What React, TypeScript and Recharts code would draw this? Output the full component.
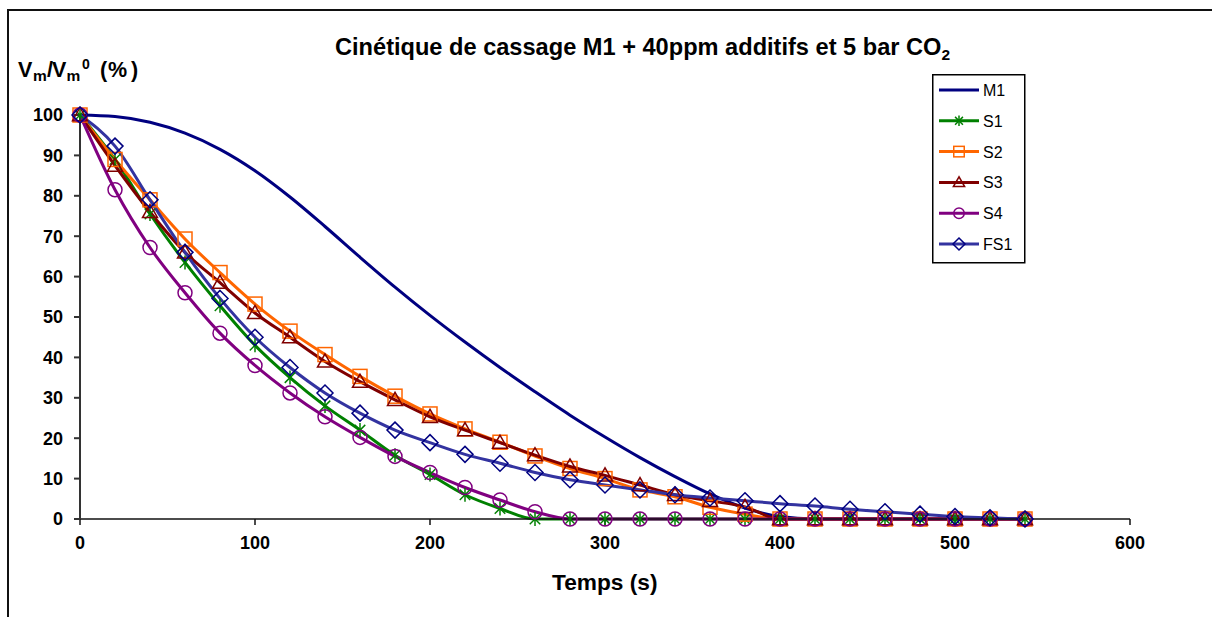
import React from 'react';
import { LineChart, Line, XAxis, YAxis } from 'recharts';

const times = [0, 20, 40, 60, 80, 100, 120, 140, 160, 180, 200, 220, 240, 260, 280, 300, 320, 340, 360, 380, 400, 420, 440, 460, 480, 500, 520, 540];
const m1 = [100, 99.6, 98.2, 95.5, 91.5, 86.2, 79.7, 72.4, 64.8, 57.4, 50.4, 43.8, 37.5, 31.5, 25.7, 20.3, 15.2, 10.5, 6.2, 2.7, 0.6, 0, 0, 0, 0, 0, 0, 0];
const s1 = [100, 89, 75.5, 63.5, 52.8, 43, 35, 28, 22, 15.8, 11, 6, 2.6, 0, 0, 0, 0, 0, 0, 0, 0, 0, 0, 0, 0, 0, 0, 0];
const s2 = [100, 89, 79, 69.3, 61, 53.2, 46.5, 40.7, 35.3, 30.4, 26, 22.3, 19, 15.6, 12.5, 10, 7.2, 5.5, 2.9, 1.2, 0, 0, 0, 0, 0, 0, 0, 0];
const s3 = [100, 87.5, 76, 66, 58.5, 51, 45, 39, 34, 29.5, 25.3, 22, 18.9, 15.8, 13, 10.8, 8.4, 6, 4.5, 3, 0, 0, 0, 0, 0, 0, 0, 0];
const s4 = [100, 81.5, 67.2, 56, 46, 38, 31.2, 25.3, 20.2, 15.5, 11.5, 7.8, 4.7, 1.8, 0, 0, 0, 0, 0, 0, 0, 0, 0, 0, 0, 0, 0, 0];
const fs1 = [100, 92.3, 79, 66, 54.6, 45, 37.5, 31.2, 26.2, 22, 18.9, 16, 13.8, 11.5, 9.7, 8.4, 7.2, 6, 5.2, 4.5, 3.8, 3.2, 2.4, 1.8, 1.2, 0.6, 0.3, 0];

const xTicks = [0, 100, 200, 300, 400, 500, 600];
const yTicks = [0, 10, 20, 30, 40, 50, 60, 70, 80, 90, 100];

const data = times.map((t, i) => ({ t, M1: m1[i], S1: s1[i], S2: s2[i], S3: s3[i], S4: s4[i], FS1: fs1[i] }));

type Kind = 'none' | 'star' | 'square' | 'triangle' | 'circle' | 'diamond';

const seriesDefs: { key: string; color: string; marker: Kind; markerColor: string }[] = [
  { key: 'M1', color: '#000080', marker: 'none', markerColor: '#000080' },
  { key: 'S1', color: '#008000', marker: 'star', markerColor: '#008000' },
  { key: 'S2', color: '#FF6600', marker: 'square', markerColor: '#FF6600' },
  { key: 'S3', color: '#800000', marker: 'triangle', markerColor: '#800000' },
  { key: 'S4', color: '#800080', marker: 'circle', markerColor: '#800080' },
  { key: 'FS1', color: '#3333A0', marker: 'diamond', markerColor: '#000080' },
];

function Marker({ kind, cx, cy, color, s = 1 }: { kind: Kind; cx: number; cy: number; color: string; s?: number }) {
  const sw = 1.5;
  if (kind === 'star') {
    const r = 7 * s;
    const d = r * 0.75;
    return (
      <g stroke={color} strokeWidth={sw} fill="none">
        <line x1={cx} y1={cy - r} x2={cx} y2={cy + r} />
        <line x1={cx - d} y1={cy - d} x2={cx + d} y2={cy + d} />
        <line x1={cx - d} y1={cy + d} x2={cx + d} y2={cy - d} />
      </g>
    );
  }
  if (kind === 'square') {
    const h = 7 * s;
    return <rect x={cx - h} y={cy - h} width={2 * h} height={2 * h} stroke={color} strokeWidth={sw} fill="none" />;
  }
  if (kind === 'triangle') {
    const h = 7.5 * s;
    return <polygon points={`${cx},${cy - h} ${cx - h},${cy + h * 0.75} ${cx + h},${cy + h * 0.75}`} stroke={color} strokeWidth={sw} fill="none" />;
  }
  if (kind === 'circle') {
    return <circle cx={cx} cy={cy} r={7 * s} stroke={color} strokeWidth={sw} fill="none" />;
  }
  if (kind === 'diamond') {
    const h = 8 * s;
    return <polygon points={`${cx},${cy - h} ${cx + h},${cy} ${cx},${cy + h} ${cx - h},${cy}`} stroke={color} strokeWidth={sw} fill="none" />;
  }
  return null;
}

function makeDot(kind: Kind, color: string) {
  return (p: any) => {
    const { cx, cy, index } = p;
    if (cx == null || cy == null) return <g key={`d-${index}`} />;
    return (
      <g key={`d-${index}`}>
        <Marker kind={kind} cx={cx} cy={cy} color={color} />
      </g>
    );
  };
}

const font = '"Liberation Sans", Arial, sans-serif';

function LegendBox() {
  return (
    <svg width={94} height={190} style={{ position: 'absolute', left: 932, top: 74 }}>
      <rect x={0.75} y={0.75} width={92} height={188} fill="#fff" stroke="#000" strokeWidth={1.5} />
      {seriesDefs.map((sd, i) => {
        const y = 16 + i * 30.8;
        return (
          <g key={sd.key}>
            <line x1={7} y1={y} x2={47} y2={y} stroke={sd.color} strokeWidth={3} />
            <Marker kind={sd.marker} cx={27} cy={y} color={sd.markerColor} s={0.75} />
            <text x={51} y={y + 6} fontFamily={font} fontSize={16} fill="#000">
              {sd.key}
            </text>
          </g>
        );
      })}
    </svg>
  );
}

export default function App() {
  const tickStyle = { fontSize: 18, fontWeight: 700, fill: '#000', fontFamily: font };
  return (
    <div style={{ position: 'absolute', left: 0, top: 0, width: 1212, height: 617, background: '#fff', fontFamily: font, overflow: 'hidden' }}>
      <div style={{ position: 'absolute', left: 7, top: 9, width: 1220, height: 700, borderTop: '2px solid #111', borderLeft: '2px solid #111' }} />
      <div style={{ position: 'absolute', left: 0, top: 0 }}>
        <LineChart width={1212} height={617} data={data} margin={{ top: 115, right: 82, bottom: 68, left: 20 }}>
          <XAxis
            type="number"
            dataKey="t"
            domain={[0, 600]}
            ticks={xTicks}
            interval={0}
            tick={tickStyle}
            tickSize={6}
            tickMargin={11}
            height={30}
            stroke="#111"
            strokeWidth={1.5}
          />
          <YAxis
            type="number"
            domain={[0, 100]}
            ticks={yTicks}
            interval={0}
            tick={tickStyle}
            tickSize={6}
            tickMargin={11}
            width={60}
            stroke="#333"
            strokeWidth={2}
          />
          {seriesDefs.map((sd) => (
            <Line
              key={sd.key}
              dataKey={sd.key}
              type="monotone"
              stroke={sd.color}
              strokeWidth={3}
              dot={sd.marker === 'none' ? false : makeDot(sd.marker, sd.markerColor)}
              activeDot={false}
              isAnimationActive={false}
            />
          ))}
        </LineChart>
      </div>
      <LegendBox />
      <svg width={1212} height={617} style={{ position: 'absolute', left: 0, top: 0, pointerEvents: 'none' }}>
        <text x={335} y={55} fontFamily={font} fontSize={23.6} fontWeight={700} fill="#000">
          Cinétique de cassage M1 + 40ppm additifs et 5 bar CO
          <tspan fontSize={15.5} dy={5}>2</tspan>
        </text>
        <text y={77} fontFamily={font} fontSize={21.5} fontWeight={700} fill="#000">
          <tspan x={18}>V</tspan>
          <tspan x={33} fontSize={15.5} dy={4}>m</tspan>
          <tspan x={47} dy={-4}>/</tspan>
          <tspan x={52}>V</tspan>
          <tspan x={66.5} fontSize={15.5} dy={4}>m</tspan>
          <tspan x={82} fontSize={14} dy={-12}>0</tspan>
          <tspan x={100} dy={8}>(</tspan>
          <tspan x={108}>%</tspan>
          <tspan x={131}>)</tspan>
        </text>
        <text x={552} y={590} fontFamily={font} fontSize={22.7} fontWeight={700} fill="#000">
          Temps (s)
        </text>
      </svg>
    </div>
  );
}
